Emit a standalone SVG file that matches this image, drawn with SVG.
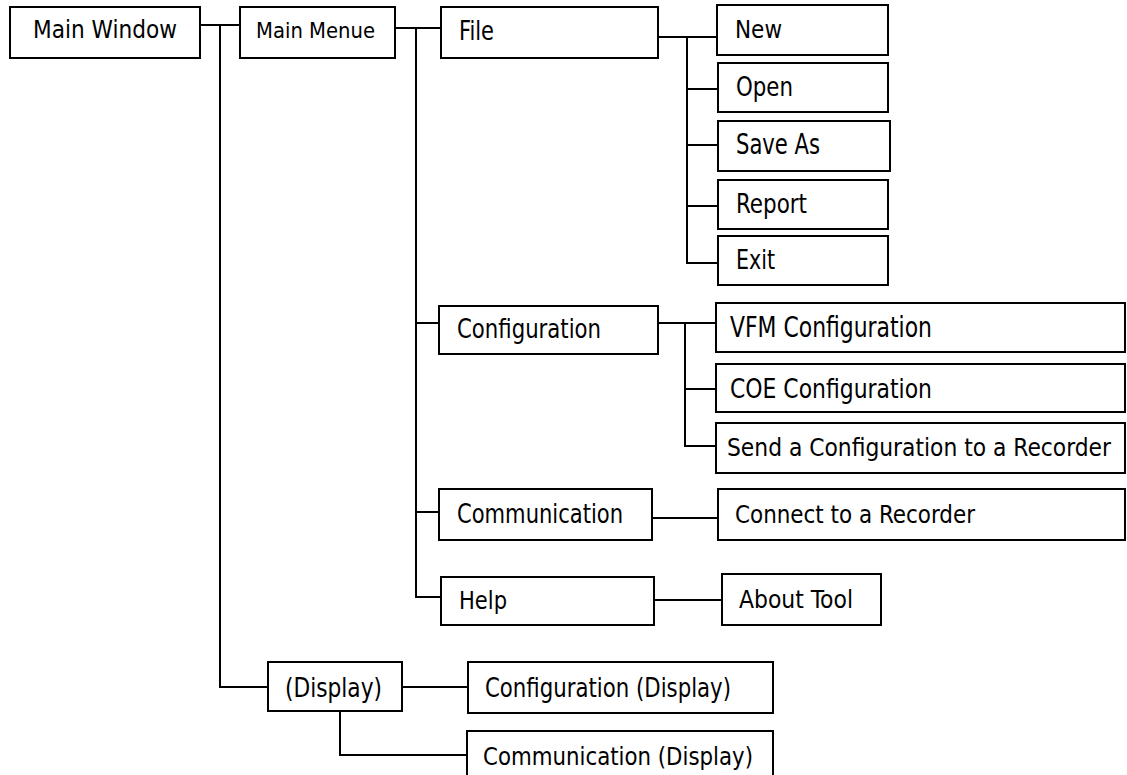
<svg xmlns="http://www.w3.org/2000/svg" width="1127" height="775" viewBox="0 0 1127 775">
<style>
.box{fill:#fff;stroke:#000;stroke-width:2}
.ln{fill:none;stroke:#000;stroke-width:2}
text{font-family:"DejaVu Sans Condensed","DejaVu Sans",sans-serif;fill:#000}
</style>
<rect width="1127" height="775" fill="#fff"/>
<g id="connectors">
<path class="ln" d="M200,25H240M220,25V687H268"/>
<path class="ln" d="M395,28H441M416,28V597H441M416,323H439M416,512H439"/>
<path class="ln" d="M658,37H717M687,37V263H718M687,89H718M687,145H718M687,206H718"/>
<path class="ln" d="M658,323H716M685,323V446H716M685,389H716"/>
<path class="ln" d="M652,518H718"/>
<path class="ln" d="M654,600H722"/>
<path class="ln" d="M402,687H468M340,711V755H467"/>
</g>
<g id="main-window"><rect class="box" x="10" y="7" width="190" height="51"/><text x="33" y="38" font-size="25" textLength="144" lengthAdjust="spacingAndGlyphs">Main Window</text></g>
<g id="main-menue"><rect class="box" x="240" y="7" width="155" height="51"/><text x="256" y="38" font-size="21" textLength="119" lengthAdjust="spacingAndGlyphs">Main Menue</text></g>
<g id="file"><rect class="box" x="441" y="7" width="217" height="51"/><text x="459" y="40" font-size="26.5" textLength="35" lengthAdjust="spacingAndGlyphs">File</text></g>
<g id="new"><rect class="box" x="717" y="5" width="171" height="50"/><text x="735" y="38" font-size="25" textLength="47" lengthAdjust="spacingAndGlyphs">New</text></g>
<g id="open"><rect class="box" x="718" y="63" width="170" height="49"/><text x="736" y="96" font-size="27" textLength="57" lengthAdjust="spacingAndGlyphs">Open</text></g>
<g id="save-as"><rect class="box" x="718" y="121" width="172" height="50"/><text x="736" y="154" font-size="28" textLength="84" lengthAdjust="spacingAndGlyphs">Save As</text></g>
<g id="report"><rect class="box" x="718" y="180" width="170" height="49"/><text x="736" y="213" font-size="27" textLength="71" lengthAdjust="spacingAndGlyphs">Report</text></g>
<g id="exit"><rect class="box" x="718" y="236" width="170" height="49"/><text x="736" y="269" font-size="26" textLength="39" lengthAdjust="spacingAndGlyphs">Exit</text></g>
<g id="configuration"><rect class="box" x="439" y="306" width="219" height="48"/><text x="457" y="338" font-size="26.5" textLength="144" lengthAdjust="spacingAndGlyphs">Configuration</text></g>
<g id="vfm-configuration"><rect class="box" x="716" y="303" width="409" height="49"/><text x="730" y="337" font-size="28" textLength="202" lengthAdjust="spacingAndGlyphs">VFM Configuration</text></g>
<g id="coe-configuration"><rect class="box" x="716" y="364" width="409" height="48"/><text x="730" y="398" font-size="27" textLength="202" lengthAdjust="spacingAndGlyphs">COE Configuration</text></g>
<g id="send-configuration"><rect class="box" x="716" y="423" width="409" height="50"/><text x="727" y="456" font-size="24.5" textLength="384" lengthAdjust="spacingAndGlyphs">Send a Configuration to a Recorder</text></g>
<g id="communication"><rect class="box" x="439" y="489" width="213" height="51"/><text x="457" y="523" font-size="27" textLength="166" lengthAdjust="spacingAndGlyphs">Communication</text></g>
<g id="connect-recorder"><rect class="box" x="718" y="489" width="407" height="51"/><text x="735" y="523" font-size="25.5" textLength="240" lengthAdjust="spacingAndGlyphs">Connect to a Recorder</text></g>
<g id="help"><rect class="box" x="441" y="577" width="213" height="48"/><text x="459" y="609" font-size="24.5" textLength="48" lengthAdjust="spacingAndGlyphs">Help</text></g>
<g id="about-tool"><rect class="box" x="722" y="574" width="159" height="51"/><text x="739" y="608" font-size="24.5" textLength="114" lengthAdjust="spacingAndGlyphs">About Tool</text></g>
<g id="display"><rect class="box" x="268" y="662" width="134" height="49"/><text x="285" y="697" font-size="26" textLength="97" lengthAdjust="spacingAndGlyphs">(Display)</text></g>
<g id="configuration-display"><rect class="box" x="468" y="662" width="305" height="51"/><text x="485" y="697" font-size="26" textLength="246" lengthAdjust="spacingAndGlyphs">Configuration (Display)</text></g>
<g id="communication-display"><rect class="box" x="467" y="731" width="306" height="47"/><text x="483" y="765" font-size="25" textLength="270" lengthAdjust="spacingAndGlyphs">Communication (Display)</text></g>
</svg>
